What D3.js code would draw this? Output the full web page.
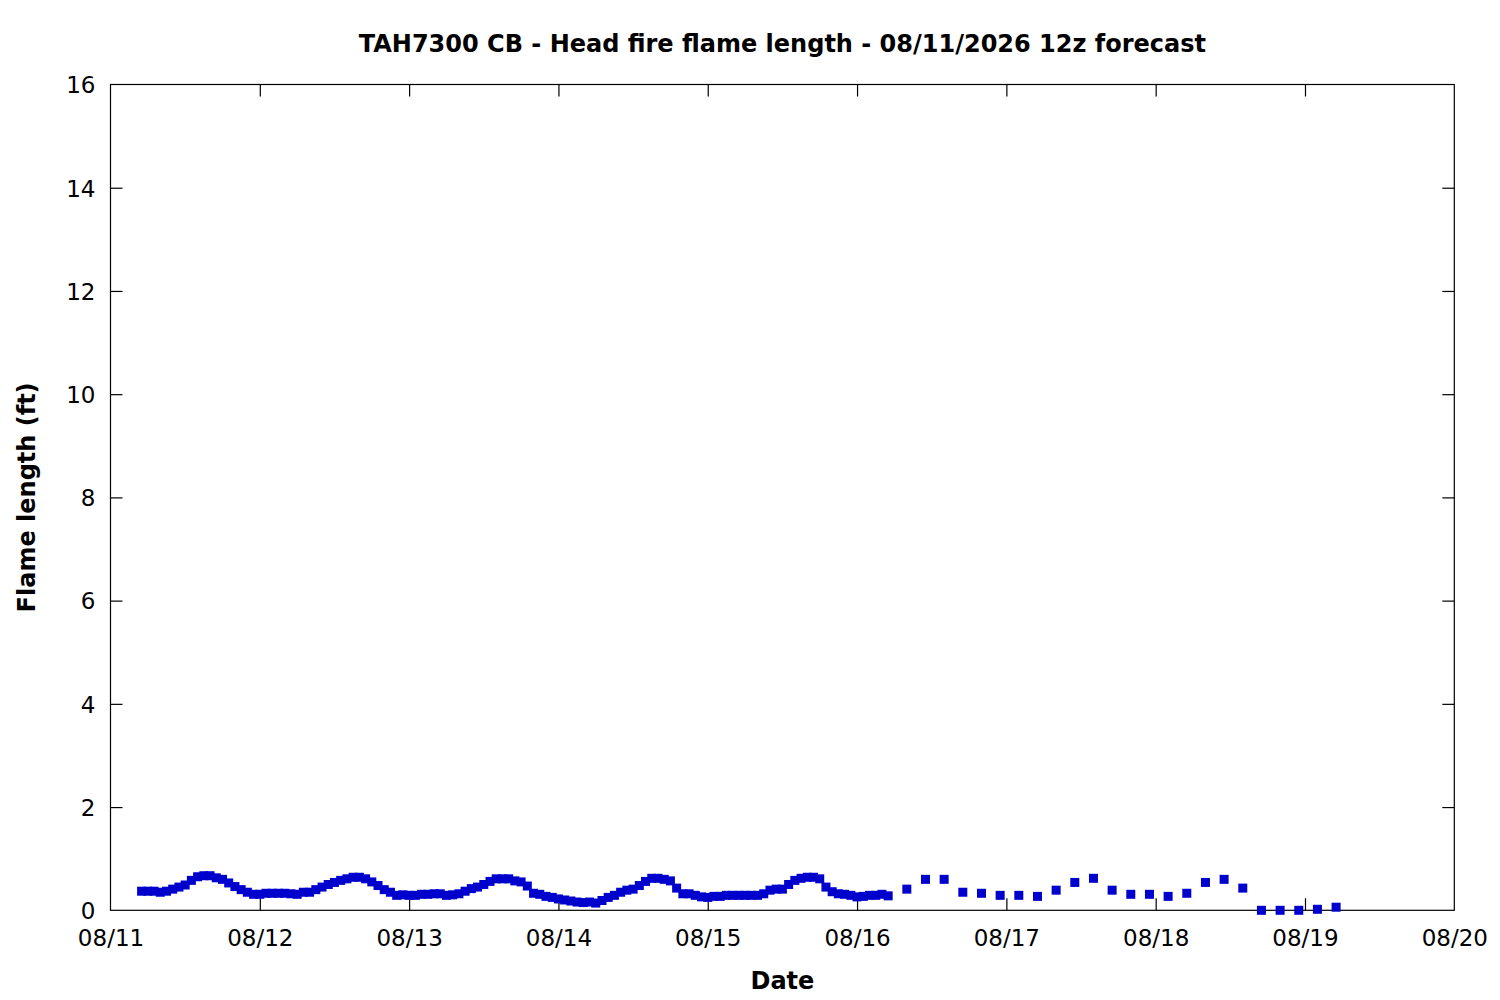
<!DOCTYPE html>
<html>
<head>
<meta charset="utf-8">
<script src="https://cdn.jsdelivr.net/npm/d3@7"></script>
<style>
  html, body { margin: 0; padding: 0; background: #fff; }
  svg { display: block; }
  text { font-family: "DejaVu Sans", sans-serif; fill: #000; }
</style>
</head>
<body>
<svg id="chart" width="1500" height="1000"></svg>
<script>
// ---------------- DATA ----------------
const chartTitle = "TAH7300 CB - Head fire flame length - 08/11/2026 12z forecast";
const xLabel = "Date";
const yLabel = "Flame length (ft)";

// x-axis tick labels (days)
const dayTicks = ["2026-08-11","2026-08-12","2026-08-13","2026-08-14","2026-08-15",
                  "2026-08-16","2026-08-17","2026-08-18","2026-08-19","2026-08-20"];
const yTicks = [0, 2, 4, 6, 8, 10, 12, 14, 16];

// hourly forecast, starting 2026-08-11 05z
const hourlyStart = "2026-08-11T05:00:00Z";
const hourlyStepHours = 1;
const hourlyValues = [
  0.37,0.37,0.37,0.35,0.37,0.41,0.45,0.49,0.58,0.65,0.67,0.67,0.63,0.60,0.53,0.46,0.40,0.35,0.31,0.31,0.33,0.33,0.33,0.33,
  0.32,0.31,0.35,0.35,0.40,0.45,0.50,0.54,0.58,0.61,0.64,0.64,0.61,0.55,0.48,0.40,0.35,0.29,0.30,0.29,0.29,0.31,0.31,0.32,0.32,
  0.29,0.30,0.32,0.37,0.42,0.45,0.50,0.56,0.61,0.61,0.61,0.57,0.55,0.47,0.33,0.31,0.27,0.25,0.22,0.20,0.18,0.16,0.15,0.16,
  0.14,0.19,0.25,0.29,0.35,0.39,0.41,0.48,0.56,0.62,0.62,0.60,0.57,0.43,0.32,0.32,0.29,0.26,0.25,0.27,0.27,0.29,0.29,0.29,0.29,0.29,
  0.29,0.32,0.39,0.41,0.41,0.50,0.58,0.62,0.64,0.64,0.61,0.45,0.36,0.32,0.31,0.29,0.26,0.27,0.29,0.29,0.31,0.28
];

// 3-hourly forecast, starting 2026-08-16 08z
const threeHourlyStart = "2026-08-16T08:00:00Z";
const threeHourlyStepHours = 3;
const threeHourlyValues = [
  0.41,0.60,0.60,0.35,0.33,0.29,0.29,0.27,0.39,0.54,0.62,0.39,
  0.31,0.31,0.27,0.33,0.54,0.60,0.43,0.00,0.00,0.00,0.02,0.06
];

// ---------------- BUILD ----------------
function seriesFrom(start, stepH, values) {
  const t0 = new Date(start).getTime();
  return values.map((v, i) => ({ t: new Date(t0 + i * stepH * 3600e3), v }));
}
const points = seriesFrom(hourlyStart, hourlyStepHours, hourlyValues)
  .concat(seriesFrom(threeHourlyStart, threeHourlyStepHours, threeHourlyValues));

const pLeft = 110.5, pRight = 1454.3, pTop = 84.5, pBottom = 910.3;
const svg = d3.select("#chart");

const dayDates = dayTicks.map(d => new Date(d + "T00:00:00Z"));
const x = d3.scaleUtc().domain([dayDates[0], dayDates[dayDates.length - 1]]).range([pLeft, pRight]);
const y = d3.scaleLinear().domain([0, 16]).range([pBottom, pTop]);
const fmt = d3.utcFormat("%m/%d");
const tickLen = 12;
const tickFont = 23;

// frame
svg.append("rect")
  .attr("x", pLeft).attr("y", pTop)
  .attr("width", pRight - pLeft).attr("height", pBottom - pTop)
  .attr("fill", "none").attr("stroke", "#000").attr("stroke-width", 1.2);

// bottom axis (inward ticks)
const xAxisB = d3.axisBottom(x).tickValues(dayDates).tickFormat(fmt).tickSizeInner(-tickLen).tickSizeOuter(0).tickPadding(19);
const gxb = svg.append("g").attr("transform", `translate(0,${pBottom})`).call(xAxisB);
// top axis mirror ticks
const xAxisT = d3.axisTop(x).tickValues(dayDates).tickFormat("").tickSizeInner(-tickLen).tickSizeOuter(0);
const gxt = svg.append("g").attr("transform", `translate(0,${pTop})`).call(xAxisT);
// left axis
const yAxisL = d3.axisLeft(y).tickValues(yTicks).tickFormat(d3.format("d")).tickSizeInner(-tickLen).tickSizeOuter(0).tickPadding(15);
const gyl = svg.append("g").attr("transform", `translate(${pLeft},0)`).call(yAxisL);
// right axis mirror
const yAxisR = d3.axisRight(y).tickValues(yTicks).tickFormat("").tickSizeInner(-tickLen).tickSizeOuter(0);
const gyr = svg.append("g").attr("transform", `translate(${pRight},0)`).call(yAxisR);

[gxb, gxt, gyl, gyr].forEach(g => {
  g.select(".domain").remove();
  g.selectAll(".tick line").attr("stroke", "#000").attr("stroke-width", 1.2);
  g.selectAll(".tick text").attr("font-family", "DejaVu Sans, sans-serif").attr("font-size", tickFont).attr("fill", "#000");
});
// remove edge ticks that sit on the frame
gxb.selectAll(".tick line").filter(d => +d === +dayDates[0] || +d === +dayDates[dayDates.length-1]).remove();
gxt.selectAll(".tick line").filter(d => +d === +dayDates[0] || +d === +dayDates[dayDates.length-1]).remove();
gyl.selectAll(".tick line").filter(d => d === 0 || d === 16).remove();
gyr.selectAll(".tick line").filter(d => d === 0 || d === 16).remove();
gyl.selectAll(".tick text").attr("dy", "0.36em");

// points
const sz = 9;
svg.append("g").selectAll("rect.pt").data(points).join("rect")
  .attr("class", "pt")
  .attr("x", d => x(d.t) - sz / 2)
  .attr("y", d => y(d.v) - sz / 2)
  .attr("width", sz).attr("height", sz)
  .attr("fill", "#0000cc");

// titles
svg.append("text").attr("x", (pLeft + pRight) / 2).attr("y", 51.5)
  .attr("text-anchor", "middle").attr("font-weight", "bold").attr("font-size", 24)
  .text(chartTitle);
svg.append("text").attr("x", (pLeft + pRight) / 2).attr("y", 988.5)
  .attr("text-anchor", "middle").attr("font-weight", "bold").attr("font-size", 24)
  .text(xLabel);
svg.append("text").attr("transform", `translate(35,${(pTop + pBottom) / 2}) rotate(-90)`)
  .attr("text-anchor", "middle").attr("font-weight", "bold").attr("font-size", 24)
  .text(yLabel);
</script>
</body>
</html>
